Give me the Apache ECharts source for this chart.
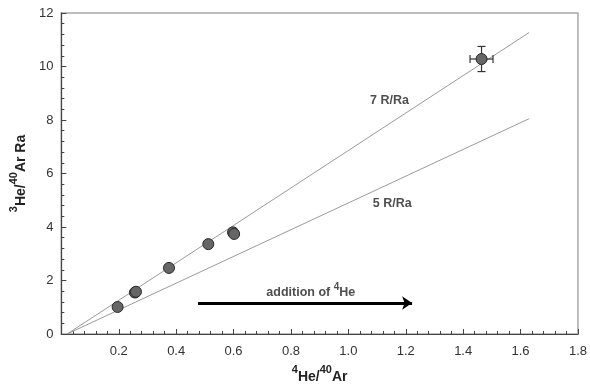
<!DOCTYPE html>
<html>
<head>
<meta charset="utf-8">
<script src="https://cdn.jsdelivr.net/npm/echarts@6/dist/echarts.min.js"></script>
<style>
  html, body { margin: 0; padding: 0; background: #fff; }
  #chart { width: 590px; height: 389px; }
</style>
</head>
<body>
<div id="chart"></div>
<script>
// Sample ratios: 4He/40Ar (x) against 3He/40Ar in Ra units (y)
const heArRatio = [0.196, 0.256, 0.260, 0.375, 0.512, 0.598, 0.602, 1.464];
const he3ArRa   = [1.01, 1.55, 1.58, 2.47, 3.36, 3.80, 3.74, 10.28];

// Uncertainty on the high-ratio sample
const errPoint = [1.464, 10.28];
const errX = 0.04;
const errY = 0.47;

// Reference lines of constant R/Ra
const line7 = [[0.02, 0], [1.63, 11.27]];
const line5 = [[0.02, 0], [1.63, 8.05]];
const lineLabels = [
  { name: '7 R/Ra', pos: [1.143, 8.71] },
  { name: '5 R/Ra', pos: [1.153, 4.86] }
];

// Trend arrow
const arrowFrom = [0.476, 1.16];
const arrowTo = [1.222, 1.16];
const arrowTextPos = [0.869, 1.62];

const xTicks = { min: 0, max: 1.8, step: 0.2 };
const yTicks = { min: 0, max: 12, step: 2 };

const FONT = '"Liberation Sans", Arial, sans-serif';

const chart = echarts.init(document.getElementById('chart'), null, { renderer: 'canvas' });

const supRich = {
  b: { fontFamily: FONT, fontWeight: 'bold', fontSize: 14, color: '#222', lineHeight: 20, verticalAlign: 'bottom', padding: [3, 0, 0, 0] },
  s: { fontFamily: FONT, fontWeight: 'bold', fontSize: 11, color: '#222', lineHeight: 20, verticalAlign: 'top' }
};

chart.setOption({
  animation: false,
  backgroundColor: '#fff',
  grid: { left: 53, top: 13, right: 11, bottom: 55, show: true, borderColor: '#a8a8a8', borderWidth: 1.5 },
  xAxis: {
    type: 'value', min: xTicks.min, max: xTicks.max, interval: xTicks.step,
    name: '{s|4}{b|He/}{s|40}{b|Ar}',
    nameLocation: 'middle', nameGap: 30,
    nameTextStyle: { rich: supRich },
    axisLine: { show: true, lineStyle: { color: '#444', width: 1.2 } },
    axisTick: { show: true, inside: true, length: 5, lineStyle: { color: '#444' } },
    minorTick: { show: true, splitNumber: 5, length: 3, lineStyle: { color: '#444' } },
    splitLine: { show: false },
    axisLabel: {
      margin: 11, fontFamily: FONT, fontSize: 13, color: '#333',
      formatter: v => (v === 0 ? '' : v.toFixed(1))
    }
  },
  yAxis: {
    type: 'value', min: yTicks.min, max: yTicks.max, interval: yTicks.step,
    name: '{s|3}{b|He/}{s|40}{b|Ar Ra}',
    nameLocation: 'middle', nameGap: 28,
    nameTextStyle: { rich: supRich },
    axisLine: { show: true, lineStyle: { color: '#444', width: 1.2 } },
    axisTick: { show: true, inside: true, length: 5, lineStyle: { color: '#444' } },
    minorTick: { show: true, splitNumber: 5, length: 3, lineStyle: { color: '#444' } },
    splitLine: { show: false },
    axisLabel: { margin: 8, fontFamily: FONT, fontSize: 13, color: '#333' }
  },
  series: [
    {
      type: 'line', data: line7, symbol: 'none', silent: true,
      lineStyle: { color: '#9a9a9a', width: 1 }, z: 1
    },
    {
      type: 'line', data: line5, symbol: 'none', silent: true,
      lineStyle: { color: '#9a9a9a', width: 1 }, z: 1
    },
    {
      type: 'scatter', symbolSize: 0, silent: true,
      data: lineLabels.map(d => ({ value: d.pos, name: d.name })),
      label: {
        show: true, position: 'inside', formatter: p => p.name,
        fontFamily: FONT, fontWeight: 'bold', fontSize: 12.5, color: '#222'
      }
    },
    {
      type: 'custom', z: 3, silent: true,
      data: [errPoint],
      renderItem: (params, api) => {
        const x = api.value(0), y = api.value(1);
        const l = api.coord([x - errX, y]), r = api.coord([x + errX, y]);
        const t = api.coord([x, y + errY]), b = api.coord([x, y - errY]);
        const cap = 4;
        const st = { stroke: '#333', lineWidth: 1.2 };
        return {
          type: 'group',
          children: [
            { type: 'line', shape: { x1: l[0], y1: l[1], x2: r[0], y2: r[1] }, style: st },
            { type: 'line', shape: { x1: l[0], y1: l[1] - cap, x2: l[0], y2: l[1] + cap }, style: st },
            { type: 'line', shape: { x1: r[0], y1: r[1] - cap, x2: r[0], y2: r[1] + cap }, style: st },
            { type: 'line', shape: { x1: t[0], y1: t[1], x2: b[0], y2: b[1] }, style: st },
            { type: 'line', shape: { x1: t[0] - cap, y1: t[1], x2: t[0] + cap, y2: t[1] }, style: st },
            { type: 'line', shape: { x1: b[0] - cap, y1: b[1], x2: b[0] + cap, y2: b[1] }, style: st }
          ]
        };
      }
    },
    {
      type: 'scatter', z: 4,
      data: heArRatio.map((x, i) => [x, he3ArRa[i]]),
      symbol: 'circle', symbolSize: 11,
      itemStyle: { color: '#666', borderColor: '#2a2a2a', borderWidth: 1, opacity: 1 }
    },
    {
      type: 'lines', coordinateSystem: 'cartesian2d', silent: true, z: 5,
      symbol: ['none', 'arrow'], symbolSize: 10,
      data: [{ coords: [arrowFrom, arrowTo] }],
      lineStyle: { color: '#000', width: 3, opacity: 1 }
    },
    {
      type: 'scatter', symbolSize: 0, silent: true,
      data: [{ value: arrowTextPos, name: 'addition of ⁴He' }],
      label: {
        show: true, position: 'inside',
        formatter: '{b|addition of }{s|4}{b|He}',
        rich: {
          b: { fontFamily: FONT, fontWeight: 'bold', fontSize: 12.5, color: '#222', lineHeight: 16, verticalAlign: 'bottom', padding: [3, 0, 0, 0] },
          s: { fontFamily: FONT, fontWeight: 'bold', fontSize: 10, color: '#222', lineHeight: 16, verticalAlign: 'top' }
        }
      }
    }
  ]
});
</script>
</body>
</html>
